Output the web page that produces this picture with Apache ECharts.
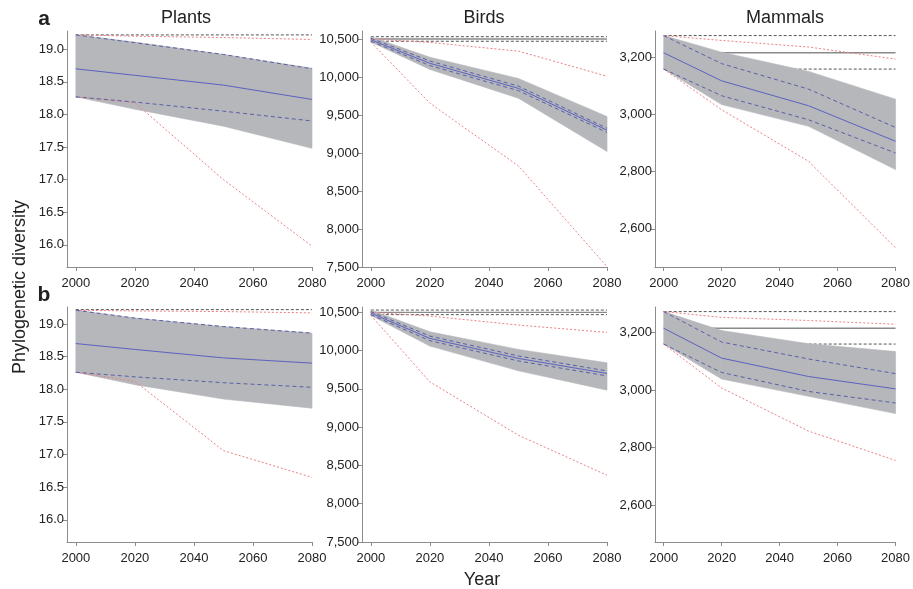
<!DOCTYPE html>
<html>
<head>
<meta charset="utf-8">
<title>Phylogenetic diversity</title>
<script src="https://cdn.jsdelivr.net/npm/echarts@6/dist/echarts.min.js"></script>
<style>
  html, body { margin: 0; padding: 0; background: #fff; }
  #chart { width: 913px; height: 589px; }
</style>
</head>
<body>
<div id="chart"></div>
<script>
// projection years (kinks in every curve)
const years = [2000, 2020, 2050, 2080];

// ---- row a ----
const plantsA_upper  = [19.22, 19.11, 18.92, 18.71];
const plantsA_lower  = [18.27, 18.08, 17.82, 17.48];
const plantsA_mean   = [18.70, 18.60, 18.45, 18.23];
const plantsA_hiDash = [19.22, 19.10, 18.92, 18.70];
const plantsA_loDash = [18.27, 18.19, 18.05, 17.90];
const plantsA_redHi  = [19.22, 19.20, 19.18, 19.15];
const plantsA_redLo  = [18.27, 18.18, 17.00, 15.98];
const plantsA_base   = [19.22, 18.70, 18.27];

const birdsA_upper  = [10530, 10260, 9980, 9480];
const birdsA_lower  = [10460, 10100, 9720, 9020];
const birdsA_mean   = [10490, 10180, 9850, 9300];
const birdsA_hiDash = [10510, 10210, 9880, 9325];
const birdsA_loDash = [10470, 10150, 9820, 9270];
const birdsA_redHi  = [10500, 10455, 10340, 10010];
const birdsA_redLo  = [10460, 9655, 8830, 7505];
const birdsA_base   = [10530, 10500, 10470];

const mammalsA_upper  = [3275, 3217, 3150, 3053];
const mammalsA_lower  = [3158, 3034, 2958, 2807];
const mammalsA_mean   = [3215, 3117, 3030, 2906];
const mammalsA_hiDash = [3275, 3177, 3088, 2954];
const mammalsA_loDash = [3158, 3065, 2981, 2865];
const mammalsA_redHi  = [3275, 3258, 3235, 3193];
const mammalsA_redLo  = [3158, 3016, 2836, 2534];
const mammalsA_base   = [3275, 3215, 3158];

// ---- row b ----
const plantsB_upper  = [19.21, 19.09, 18.96, 18.86];
const plantsB_lower  = [18.26, 18.07, 17.85, 17.71];
const plantsB_mean   = [18.70, 18.61, 18.48, 18.40];
const plantsB_hiDash = [19.21, 19.09, 18.96, 18.86];
const plantsB_loDash = [18.26, 18.19, 18.10, 18.03];
const plantsB_redHi  = [19.21, 19.20, 19.19, 19.17];
const plantsB_redLo  = [18.26, 18.12, 17.06, 16.65];
const plantsB_base   = [19.22, 18.70, 18.26];

const birdsB_upper  = [10530, 10246, 10016, 9841];
const birdsB_lower  = [10460, 10059, 9736, 9484];
const birdsB_mean   = [10490, 10160, 9898, 9702];
const birdsB_hiDash = [10510, 10190, 9930, 9735];
const birdsB_loDash = [10470, 10130, 9865, 9670];
const birdsB_redHi  = [10500, 10452, 10334, 10238];
const birdsB_redLo  = [10460, 9592, 8895, 8372];
const birdsB_base   = [10530, 10500, 10470];

const mammalsB_upper  = [3273, 3207, 3161, 3134];
const mammalsB_lower  = [3160, 3038, 2978, 2918];
const mammalsB_mean   = [3215, 3111, 3047, 3004];
const mammalsB_hiDash = [3273, 3167, 3108, 3057];
const mammalsB_loDash = [3160, 3061, 2995, 2955];
const mammalsB_redHi  = [3273, 3253, 3242, 3229];
const mammalsB_redLo  = [3160, 3007, 2857, 2755];
const mammalsB_base   = [3273, 3215, 3160];

// tick labels
const xTicks       = [2000, 2020, 2040, 2060, 2080];
const plantTicks   = [16.0, 16.5, 17.0, 17.5, 18.0, 18.5, 19.0];
const birdTicks    = [7500, 8000, 8500, 9000, 9500, 10000, 10500];
const mammalTicks  = [2600, 2800, 3000, 3200];
const titles       = ['Plants', 'Birds', 'Mammals'];

const FONT = '"Liberation Sans", Arial, Helvetica, sans-serif';

const panels = [
  { u: plantsA_upper, l: plantsA_lower, m: plantsA_mean, hd: plantsA_hiDash, ld: plantsA_loDash, rh: plantsA_redHi, rl: plantsA_redLo, b: plantsA_base, ticks: plantTicks, min: 15.66, max: 19.28, dec: 1 },
  { u: birdsA_upper, l: birdsA_lower, m: birdsA_mean, hd: birdsA_hiDash, ld: birdsA_loDash, rh: birdsA_redHi, rl: birdsA_redLo, b: birdsA_base, ticks: birdTicks, min: 7500, max: 10605, dec: 0 },
  { u: mammalsA_upper, l: mammalsA_lower, m: mammalsA_mean, hd: mammalsA_hiDash, ld: mammalsA_loDash, rh: mammalsA_redHi, rl: mammalsA_redLo, b: mammalsA_base, ticks: mammalTicks, min: 2467, max: 3291, dec: 0 },
  { u: plantsB_upper, l: plantsB_lower, m: plantsB_mean, hd: plantsB_hiDash, ld: plantsB_loDash, rh: plantsB_redHi, rl: plantsB_redLo, b: plantsB_base, ticks: plantTicks, min: 15.66, max: 19.26, dec: 1 },
  { u: birdsB_upper, l: birdsB_lower, m: birdsB_mean, hd: birdsB_hiDash, ld: birdsB_loDash, rh: birdsB_redHi, rl: birdsB_redLo, b: birdsB_base, ticks: birdTicks, min: 7500, max: 10570, dec: 0 },
  { u: mammalsB_upper, l: mammalsB_lower, m: mammalsB_mean, hd: mammalsB_hiDash, ld: mammalsB_loDash, rh: mammalsB_redHi, rl: mammalsB_redLo, b: mammalsB_base, ticks: mammalTicks, min: 2471, max: 3289, dec: 0 }
];

const colLeft  = [67, 362, 655];
const colWidth = [245, 245, 247];
const rowTop   = [31, 307];
const rowH     = [236, 235];

const axisCol = '#8c8c8c';
const bandCol = '#b5b7ba';
const grids = [], xAxes = [], yAxes = [], series = [];

// one quad of the band per segment: [x0, lo0, hi0, x1, lo1, hi1]
function bandItem(params, api) {
  const a = api.coord([api.value(0), api.value(2)]);
  const b = api.coord([api.value(3), api.value(5)]);
  const c = api.coord([api.value(3), api.value(4)]);
  const d = api.coord([api.value(0), api.value(1)]);
  return {
    type: 'polygon',
    shape: { points: [a, b, c, d] },
    style: { fill: bandCol, stroke: bandCol, lineWidth: 0.6 }
  };
}

panels.forEach((p, i) => {
  const c = i % 3, r = Math.floor(i / 3);
  grids.push({ left: colLeft[c], top: rowTop[r], width: colWidth[c], height: rowH[r], containLabel: false });
  xAxes.push({
    type: 'value', gridIndex: i, min: 1997, max: 2080,
    axisLine: { show: true, lineStyle: { color: axisCol, width: 1 } },
    axisTick: { show: true, length: 4, customValues: xTicks, lineStyle: { color: axisCol } },
    axisLabel: { customValues: xTicks, color: '#222', fontSize: 13, fontFamily: FONT, margin: 10, formatter: v => String(v) },
    splitLine: { show: false }
  });
  yAxes.push({
    type: 'value', gridIndex: i, min: p.min, max: p.max,
    axisLine: { show: true, lineStyle: { color: axisCol, width: 1 } },
    axisTick: { show: true, length: 4, customValues: p.ticks, lineStyle: { color: axisCol } },
    axisLabel: {
      customValues: p.ticks, color: '#222', fontSize: 13, fontFamily: FONT, margin: 3,
      formatter: v => p.dec ? v.toFixed(1) : Math.round(v).toLocaleString('en-US')
    },
    splitLine: { show: false }
  });

  const pts = arr => years.map((y, k) => [y, arr[k]]);
  const flat = v => [[2000, v], [2080, v]];
  const line = (data, color, type, extra) => Object.assign({
    type: 'line', xAxisIndex: i, yAxisIndex: i, data: data, symbol: 'none', silent: true,
    lineStyle: { color: color, width: 1, type: type }, z: 2
  }, extra || {});

  // flat reference lines (present-day values), under the band
  series.push(line(flat(p.b[0]), '#555', [3, 2]));
  series.push(line(flat(p.b[1]), '#8a8a8a', 'solid', { lineStyle: { color: '#8a8a8a', width: 1.3 } }));
  series.push(line(flat(p.b[2]), '#555', [3, 2]));
  // grey band between lower and upper bound
  const segs = [];
  for (let k = 0; k < years.length - 1; k++) {
    segs.push([years[k], p.l[k], p.u[k], years[k + 1], p.l[k + 1], p.u[k + 1]]);
  }
  series.push({
    type: 'custom', xAxisIndex: i, yAxisIndex: i, data: segs, renderItem: bandItem,
    encode: { x: [0, 3], y: [1, 2, 4, 5] }, silent: true, z: 3
  });
  // red dotted extremes
  series.push(line(pts(p.rh), '#ec8084', [2, 2], { z: 4 }));
  series.push(line(pts(p.rl), '#ec8084', [2, 2], { z: 4 }));
  // blue dashed inner bounds and mean
  series.push(line(pts(p.hd), '#5a5fa8', [4, 3], { z: 5 }));
  series.push(line(pts(p.ld), '#5a5fa8', [4, 3], { z: 5 }));
  series.push(line(pts(p.m), '#5c62c0', 'solid', { z: 6 }));
});

const txt = (x, y, text, font, extra) => Object.assign({
  type: 'text', x: x, y: y, silent: true,
  style: { text: text, fill: '#222', font: font, align: 'center', verticalAlign: 'middle' }
}, extra || {});

const graphic = [
  txt(186, 18, titles[0], '18px ' + FONT),
  txt(484, 18, titles[1], '18px ' + FONT),
  txt(785, 18, titles[2], '18px ' + FONT),
  txt(44, 19, 'a', 'bold 21px ' + FONT),
  txt(44, 295, 'b', 'bold 21px ' + FONT),
  txt(20, 287, 'Phylogenetic diversity', '18px ' + FONT, { rotation: Math.PI / 2 }),
  txt(482, 580, 'Year', '18px ' + FONT)
];

const chart = echarts.init(document.getElementById('chart'), null, { renderer: 'canvas' });
chart.setOption({
  animation: false,
  backgroundColor: '#fff',
  grid: grids,
  xAxis: xAxes,
  yAxis: yAxes,
  series: series,
  graphic: graphic
});
</script>
</body>
</html>
